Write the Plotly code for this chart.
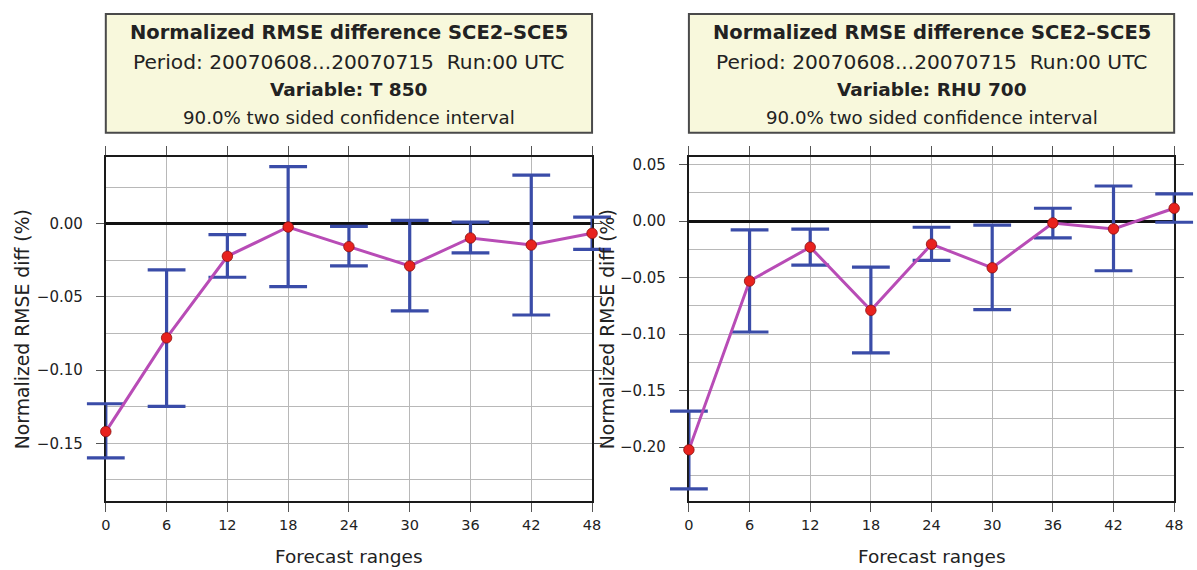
import plotly.graph_objects as go

# ---------------- data ----------------
ranges = [0, 6, 12, 18, 24, 30, 36, 42, 48]
x_ticks = [0, 6, 12, 18, 24, 30, 36, 42, 48]

t850_mean = [-0.142, -0.078, -0.0223, -0.0023, -0.0157, -0.0289, -0.0098, -0.0146, -0.0066]
t850_upper = [-0.123, -0.0316, -0.0075, 0.0389, -0.0019, 0.0023, 0.0011, 0.0331, 0.0045]
t850_lower = [-0.160, -0.1248, -0.0366, -0.043, -0.0289, -0.0596, -0.0200, -0.0624, -0.0176]

rhu_mean = [-0.2023, -0.0529, -0.0229, -0.0788, -0.0203, -0.0412, -0.0015, -0.0068, 0.0115]
rhu_upper = [-0.168, -0.0076, -0.0070, -0.0406, -0.0053, -0.0035, 0.0115, 0.0312, 0.0242]
rhu_lower = [-0.2368, -0.0980, -0.0388, -0.1165, -0.0347, -0.0782, -0.0147, -0.0438, -0.0009]

title_main = "Normalized RMSE difference SCE2\u2013SCE5"
title_period = "Period: 20070608...20070715\u00a0\u00a0Run:00 UTC"
var_left = "Variable: T 850"
var_right = "Variable: RHU 700"
conf_text = "90.0% two sided confidence interval"
ytitle = "Normalized RMSE diff (%)"
xtitle = "Forecast ranges"

# ---------------- style ----------------
W, H = 1197, 570
FONT = "DejaVu Sans"
TXT = "#222222"
ERR_COL = "#3a4ca8"
LINE_COL = "#b84cb6"
MARK_COL = "#e8221e"
BOX_FILL = "#f8f8dc"
BOX_LINE = "#4a4a4a"
GRID = "#b8b8b8"

xdom_l = [102 / W, 594 / W]
xdom_r = [692 / W, 1183 / W]
ydom = [69 / H, 414 / H]

fig = go.Figure()


def add_panel(mean, upper, lower, xa, ya):
    # vertical stems of the confidence interval
    sx, sy = [], []
    for x, lo, hi in zip(ranges, lower, upper):
        sx += [x, x, None]
        sy += [lo, hi, None]
    fig.add_trace(go.Scatter(
        x=sx, y=sy, mode="lines", line=dict(color=ERR_COL, width=3.2),
        xaxis=xa, yaxis=ya, showlegend=False, hoverinfo="skip"))
    # caps (markers are not clipped at the frame)
    fig.add_trace(go.Scatter(
        x=ranges + ranges, y=upper + lower, mode="markers",
        marker=dict(symbol="line-ew", size=27, color=ERR_COL,
                    line=dict(color=ERR_COL, width=3.2)),
        xaxis=xa, yaxis=ya, showlegend=False, cliponaxis=False, hoverinfo="skip"))
    # mean line with points
    fig.add_trace(go.Scatter(
        x=ranges, y=mean, mode="lines+markers",
        line=dict(color=LINE_COL, width=3),
        marker=dict(color=MARK_COL, size=10.5, line=dict(color="#8a1010", width=0.8)),
        xaxis=xa, yaxis=ya, showlegend=False, cliponaxis=False))


add_panel(t850_mean, t850_upper, t850_lower, "x", "y")
add_panel(rhu_mean, rhu_upper, rhu_lower, "x2", "y2")

xaxis_common = dict(
    range=[0, 48], tickmode="array", tickvals=x_ticks,
    ticktext=[str(v) for v in x_ticks],
    showgrid=True, gridcolor=GRID, gridwidth=1,
    showline=True, linecolor="#1a1a1a", linewidth=2, mirror="ticks",
    ticks="outside", ticklen=9, tickwidth=1.2, tickcolor="#555555",
    tickfont=dict(family=FONT, size=14.5, color=TXT), ticklabelstandoff=0,
    zeroline=False, fixedrange=True, layer="below traces",
)
yaxis_common = dict(
    dtick=0.05, tick0=0, tickformat=".2f",
    showgrid=True, gridcolor=GRID, gridwidth=1,
    minor=dict(dtick=0.025, tick0=0, showgrid=True, gridcolor=GRID, gridwidth=1, ticks=""),
    showline=True, linecolor="#1a1a1a", linewidth=2, mirror="ticks",
    ticks="outside", ticklen=8, tickwidth=1.2, tickcolor="#555555",
    tickfont=dict(family=FONT, size=15, color=TXT), ticklabelstandoff=10,
    zeroline=True, zerolinecolor="#111111", zerolinewidth=2.5, fixedrange=True,
    layer="below traces",
)

fig.update_layout(
    width=W, height=H,
    margin=dict(l=0, r=0, t=0, b=0),
    paper_bgcolor="white", plot_bgcolor="white",
    xaxis=dict(xaxis_common, domain=xdom_l, anchor="y"),
    yaxis=dict(yaxis_common, domain=ydom, anchor="x", range=[-0.1895, 0.0457]),
    xaxis2=dict(xaxis_common, domain=xdom_r, anchor="y2"),
    yaxis2=dict(yaxis_common, domain=ydom, anchor="x2", range=[-0.2477, 0.0571]),
)

shapes = []
annotations = []
y_box0, y_box1 = (H - 132) / H, (H - 13) / H
line_y = [32, 61, 89, 117]
for dom, var in ((xdom_l, var_left), (xdom_r, var_right)):
    shapes.append(dict(type="rect", xref="paper", yref="paper",
                       x0=dom[0], x1=dom[1], y0=y_box0, y1=y_box1,
                       fillcolor=BOX_FILL, line=dict(color=BOX_LINE, width=2), layer="above"))
    xc = (dom[0] + dom[1]) / 2
    texts = [("<b>%s</b>" % title_main, 19.5), (title_period, 20.2),
             ("<b>%s</b>" % var, 18.5), (conf_text, 18.2)]
    for (t, s), yy in zip(texts, line_y):
        annotations.append(dict(text=t, x=xc, y=1 - yy / H, xref="paper", yref="paper",
                                xanchor="center", yanchor="middle", showarrow=False,
                                font=dict(family=FONT, size=s, color=TXT)))
    # x axis title
    annotations.append(dict(text=xtitle, x=xc, y=1 - 556 / H, xref="paper", yref="paper",
                            xanchor="center", yanchor="middle", showarrow=False,
                            font=dict(family=FONT, size=18.5, color=TXT)))

for xpix in (18, 610):
    annotations.append(dict(text=ytitle, x=xpix / W, y=1 - 329 / H, xref="paper", yref="paper",
                            xanchor="center", yanchor="middle", showarrow=False, textangle=-90,
                            font=dict(family=FONT, size=18.8, color=TXT)))

fig.update_layout(shapes=shapes, annotations=annotations)
fig.write_html("out.html")
